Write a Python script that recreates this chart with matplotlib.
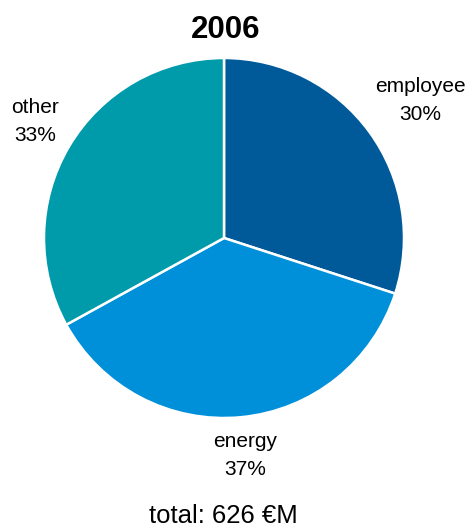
import matplotlib.pyplot as plt

plt.rcParams['font.family'] = ['Liberation Sans', 'DejaVu Sans']

# cost shares for 2006
categories = ["employee", "energy", "other"]
shares = [30, 37, 33]
colors = ["#005a9a", "#0090da", "#009baa"]
year = "2006"
total = 626

fig = plt.figure(figsize=(4.7, 5.28), dpi=100)
W, H = 470, 528
cx, cy, r = 224, 528 - 238, 180
ax = fig.add_axes([(cx - r) / W, (cy - r) / H, 2 * r / W, 2 * r / H])

ax.pie(shares, colors=colors, startangle=90, counterclock=False,
       wedgeprops=dict(edgecolor="white", linewidth=1.8))
ax.set_xlim(-1, 1)
ax.set_ylim(-1, 1)
ax.set_aspect("equal")
ax.axis("off")

# label positions, in pie radius units
label_pos = [(1.09, 0.765), (0.117, -1.21), (-1.05, 0.645)]
for name, val, (x, y) in zip(categories, shares, label_pos):
    ax.text(x, y, f"{name}\n{val}%", ha="center", va="center",
            fontsize=15, linespacing=1.6, clip_on=False)

fig.text(226 / W, 1 - 30 / H, year, ha="center", va="center",
         fontsize=22.5, fontweight="bold")
fig.text(223 / W, 1 - 516 / H, f"total: {total} €M", ha="center", va="center",
         fontsize=18.5)

fig.savefig("out.png", dpi=100)
